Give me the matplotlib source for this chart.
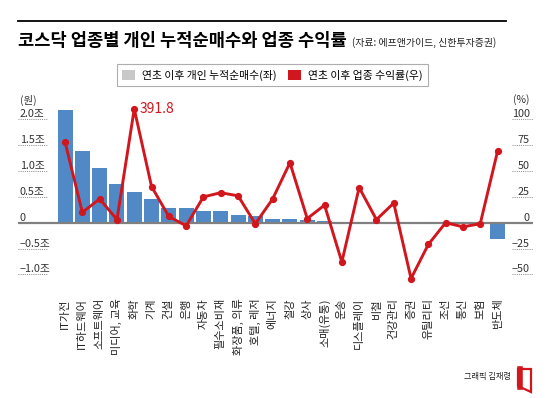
import numpy as np
import matplotlib
matplotlib.use("Agg")
import matplotlib.pyplot as plt
import matplotlib.transforms as mtransforms
from matplotlib.patches import Patch, Polygon

plt.rcParams['font.family'] = ['Noto Sans CJK KR', 'DejaVu Sans']
plt.rcParams['axes.unicode_minus'] = True

# data
sectors = ['IT가전', 'IT하드웨어', '소프트웨어', '미디어, 교육', '화학', '기계', '건설',
           '은행', '자동차', '필수소비재', '화장품, 의류', '호텔, 레저', '에너지', '철강',
           '상사', '소매(유통)', '운송', '디스플레이', '비철', '건강관리', '증권',
           '유틸리티', '조선', '통신', '보험', '반도체']
net_buy = [2.18, 1.39, 1.06, 0.74, 0.59, 0.45, 0.29, 0.29, 0.23, 0.22, 0.14, 0.13,
           0.08, 0.07, 0.06, 0.04, 0.02, 0.02, 0.02, 0.02, 0.0, 0.0, 0.0, 0.0, 0.0, -0.32]
returns = [78, 10, 23, 3, 391.8, 35, 6, -3, 25, 29, 26, -1, 23, 58, 4, 17, -38, 34,
           3, 19, -54, -21, 0, -4, -1, 69]

left_ticks = [2.0, 1.5, 1.0, 0.5, 0, -0.5, -1.0]
left_labels = ['2.0조', '1.5조', '1.0조', '0.5조', '0', '−0.5조', '−1.0조']
right_ticks = [100, 75, 50, 25, 0, -25, -50]
right_labels = ['100', '75', '50', '25', '0', '−25', '−50']

BLUE = '#5189c6'
RED = '#d2161e'
GRAY = '#c8c8c8'
W, H = 550, 398


def fx(px):
    return px / W


def fy(py):
    return 1 - py / H


fig = plt.figure(figsize=(W / 100, H / 100), dpi=100)
fig.patch.set_facecolor('white')

ax = fig.add_axes([fx(18), fy(285), fx(533) - fx(18), fy(95) - fy(285)])
x = np.arange(len(sectors))
ax.bar(x, net_buy, width=0.87, color=BLUE, zorder=2)
ax.set_xlim(-2.72, 27.05)
ylo, yhi = -1.205, 2.47
ax.set_ylim(ylo, yhi)
ax.axhline(0, color='#808080', lw=1.6, zorder=3)

ax.set_xticks(x)
ax.set_xticklabels(sectors, rotation=90, fontsize=8, color='#222')
ax.tick_params(axis='x', length=0, pad=9.5)
ax.set_yticks([])
for s in ax.spines.values():
    s.set_visible(False)

# line on the right axis (100% = 2.0조)
ax2 = ax.twinx()
ax2.set_ylim(ylo * 50, yhi * 50)
shown = np.minimum(returns, 110)  # 391.8 is cut off at the top of the panel
ax2.plot(x, shown, color=RED, lw=2.1, marker='o', ms=4.2, zorder=5)
ax2.annotate('391.8', xy=(4, shown[4]), xytext=(4, 0), textcoords='offset points',
             va='center', ha='left', color=RED, fontsize=10)
ax2.set_yticks([])
for s in ax2.spines.values():
    s.set_visible(False)

# hand-made tick labels sitting on dotted lines
tl = mtransforms.blended_transform_factory(fig.transFigure, ax.transData)
for v, lab in zip(left_ticks, left_labels):
    ax.text(fx(20), v, lab, transform=tl, ha='left', va='bottom', fontsize=7.8, color='#333')
    if v != 0:
        ax.plot([fx(18), fx(48)], [v, v], transform=tl, ls=(0, (1, 1.2)), lw=0.7,
                color='#888', clip_on=False)
tr = mtransforms.blended_transform_factory(fig.transFigure, ax2.transData)
for v, lab in zip(right_ticks, right_labels):
    ax2.text(fx(530), v, lab, transform=tr, ha='right', va='bottom', fontsize=7.8, color='#333')
    if v != 0:
        ax2.plot([fx(512), fx(533)], [v, v], transform=tr, ls=(0, (1, 1.2)), lw=0.7,
                 color='#888', clip_on=False)
fig.text(fx(20), fy(100), '(원)', ha='left', va='center', fontsize=7.5, color='#333')
fig.text(fx(529), fy(100), '(%)', ha='right', va='center', fontsize=7.5, color='#333')

# header
fig.add_artist(plt.Line2D([fx(18), fx(506)], [fy(21), fy(21)], color='black', lw=1.3))
fig.text(fx(18), fy(41), '코스닥 업종별 개인 누적순매수와 업종 수익률', ha='left', va='center',
         fontsize=12.7, fontweight='bold', color='black')
fig.text(fx(352), fy(43), '(자료: 에프앤가이드, 신한투자증권)', ha='left', va='center',
         fontsize=7.1, color='#222')

handles = [Patch(facecolor=GRAY, edgecolor='none'), Patch(facecolor=RED, edgecolor='none')]
leg = fig.legend(handles, ['연초 이후 개인 누적순매수(좌)', '연초 이후 업종 수익률(우)'],
                 loc='center', bbox_to_anchor=(fx(272.5), fy(75)), ncol=2, frameon=True,
                 fancybox=False, edgecolor='#999', fontsize=7.8, handlelength=1.2,
                 handleheight=1.1, columnspacing=1.1, handletextpad=0.6, borderpad=0.5)
leg.get_frame().set_linewidth(0.8)

# credit + logo
fig.text(fx(511), fy(377), '그래픽 김재령', ha='right', va='center', fontsize=5.9, color='#222')
logo = Polygon([(fx(518), fy(369)), (fx(531), fy(369)), (fx(531), fy(392)), (fx(518), fy(386))],
               closed=True, fill=False, edgecolor=RED, lw=1.6, transform=fig.transFigure)
fig.add_artist(logo)
fig.add_artist(plt.Line2D([fx(519.5), fx(519.5)], [fy(369), fy(386.5)], color=RED, lw=4))

fig.savefig('out.png', dpi=100)
